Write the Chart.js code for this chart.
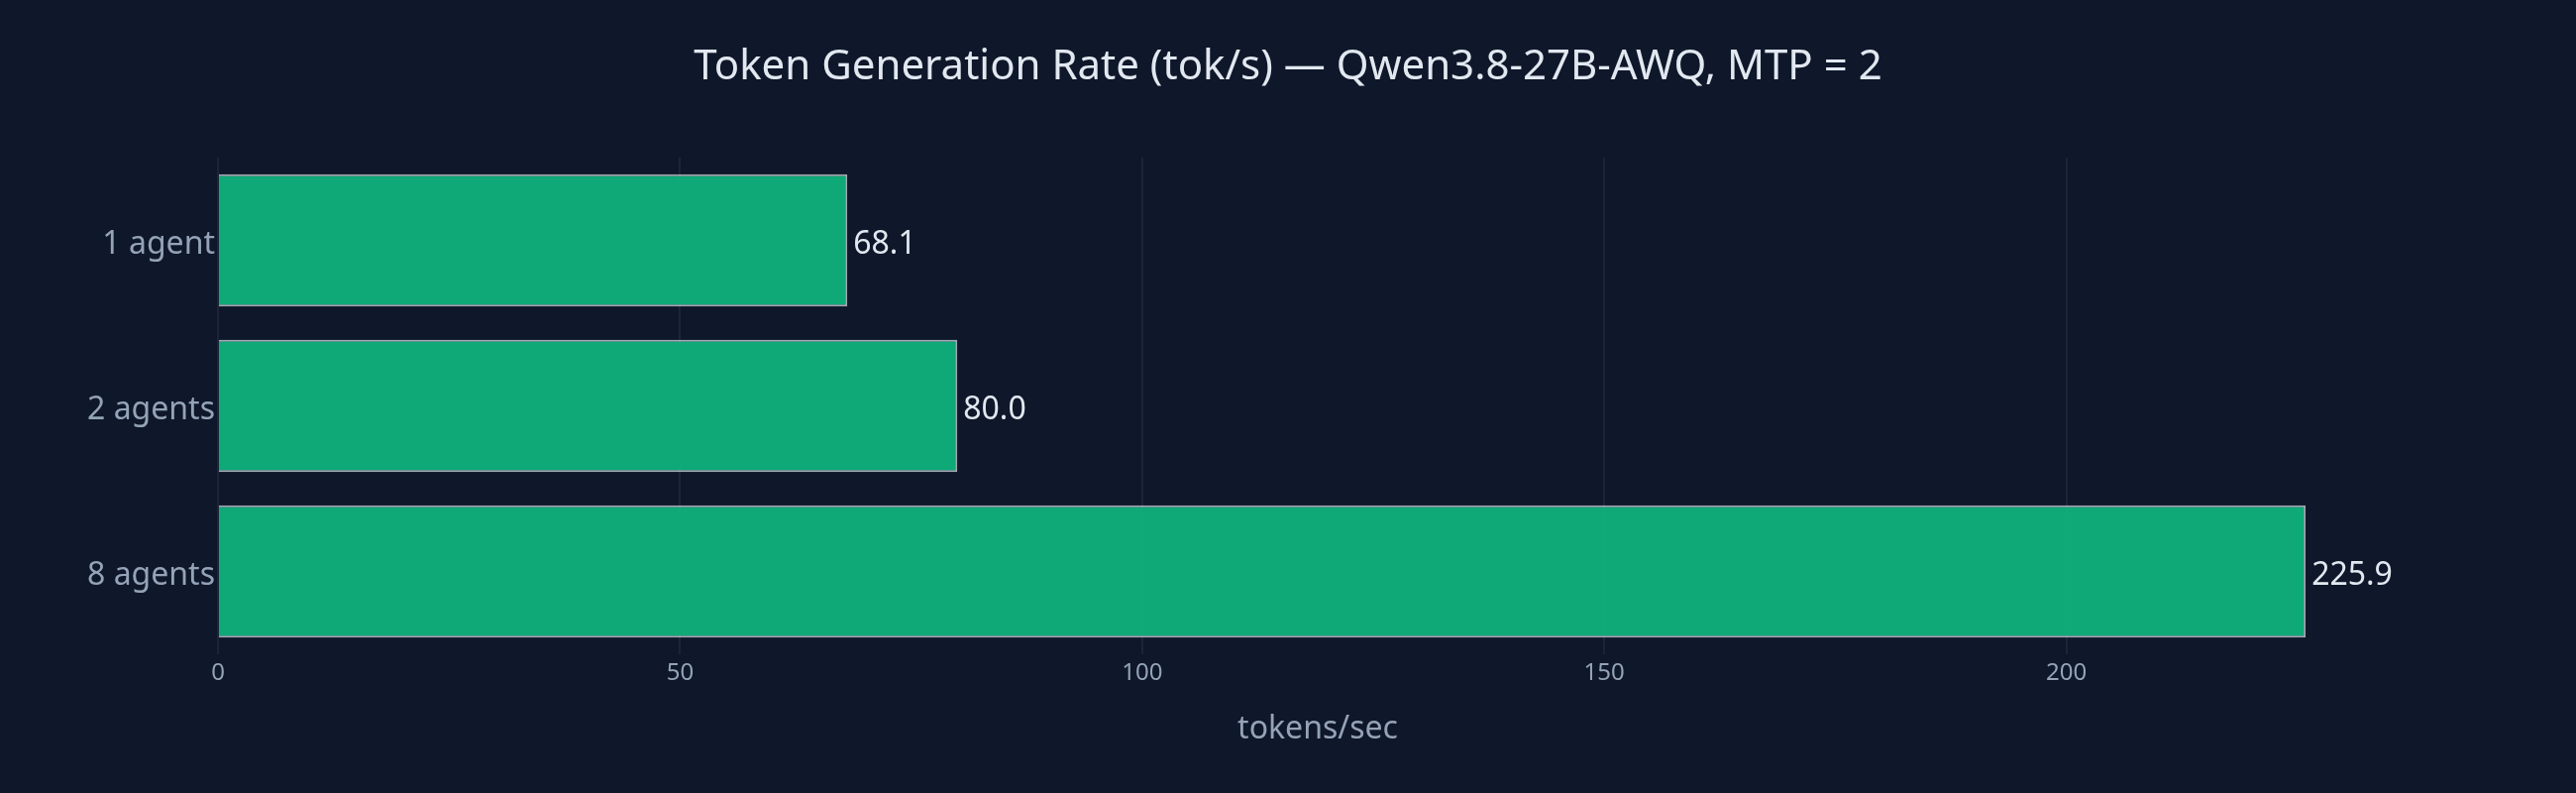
<!DOCTYPE html>
<html>
<head>
<meta charset="utf-8">
<title>Token Generation Rate</title>
<script src="https://cdn.jsdelivr.net/npm/chart.js@4.4.1/dist/chart.umd.min.js"></script>
<style>
  html, body { margin: 0; padding: 0; background: #0f172a; }
  #wrap { width: 2600px; height: 800px; position: relative; }
</style>
</head>
<body>
<div id="wrap"><canvas id="rateChart"></canvas></div>
<script>
// data
const agentLabels = ['1 agent', '2 agents', '8 agents'];
const tokPerSec = [68.1, 80.0, 225.9];
const xTickValues = [0, 50, 100, 150, 200];

const TITLE = 'Token Generation Rate (tok/s) — Qwen3.8-27B-AWQ, MTP = 2';
const FONT = "'Noto Sans', 'DejaVu Sans', sans-serif";

// title centred on the whole canvas, category labels, value text at bar ends
const textLayer = {
  id: 'textLayer',
  afterDatasetsDraw(chart) {
    const ctx = chart.ctx;
    const meta = chart.getDatasetMeta(0);
    const yScale = chart.scales.y;
    ctx.save();
    ctx.font = '32px ' + FONT;
    ctx.textBaseline = 'alphabetic';

    // category names, right aligned against the axis
    ctx.fillStyle = '#94a3b8';
    ctx.textAlign = 'right';
    agentLabels.forEach((lbl, i) => {
      ctx.fillText(lbl, yScale.right - 3, yScale.getPixelForValue(i) + 13);
    });

    // values
    ctx.fillStyle = '#e2e8f0';
    ctx.textAlign = 'left';
    meta.data.forEach((bar, i) => {
      ctx.fillText(tokPerSec[i].toFixed(1), bar.x + 6, bar.y + 13);
    });

    ctx.font = '42px ' + FONT;
    ctx.textAlign = 'center';
    ctx.fillText(TITLE, chart.width / 2, 80);
    ctx.restore();
  }
};

const ctx = document.getElementById('rateChart');
const rateChart = new Chart(ctx, {
  type: 'bar',
  data: {
    labels: agentLabels,
    datasets: [{
      data: tokPerSec,
      backgroundColor: 'rgba(16, 185, 129, 0.9)',
      borderColor: 'rgba(226, 232, 240, 0.7)',
      borderWidth: 2,
      categoryPercentage: 0.8,
      barPercentage: 1.0
    }]
  },
  options: {
    indexAxis: 'y',
    responsive: true,
    maintainAspectRatio: false,
    devicePixelRatio: 1,
    animation: false,
    layout: { padding: { left: 0, right: 160, top: 159, bottom: 0 } },
    plugins: {
      legend: { display: false },
      tooltip: { enabled: false },
      title: { display: false }
    },
    scales: {
      x: {
        min: 0,
        max: 238,
        grid: { color: 'rgba(148, 163, 184, 0.1)', lineWidth: 2, drawTicks: false },
        border: { display: false },
        afterBuildTicks(scale) {
          scale.ticks = xTickValues.map(v => ({ value: v }));
        },
        afterFit(scale) { scale.height = 140; },
        ticks: {
          color: '#94a3b8',
          padding: 5,
          font: { family: FONT, size: 24 }
        },
        title: {
          display: true,
          text: 'tokens/sec',
          color: '#94a3b8',
          font: { family: FONT, size: 32 },
          padding: { top: 0, bottom: 45 }
        }
      },
      y: {
        grid: { display: false, drawTicks: false },
        border: { display: false },
        afterFit(scale) { scale.width = 220; },
        ticks: { display: false }
      }
    }
  },
  plugins: [textLayer]
});
</script>
</body>
</html>
